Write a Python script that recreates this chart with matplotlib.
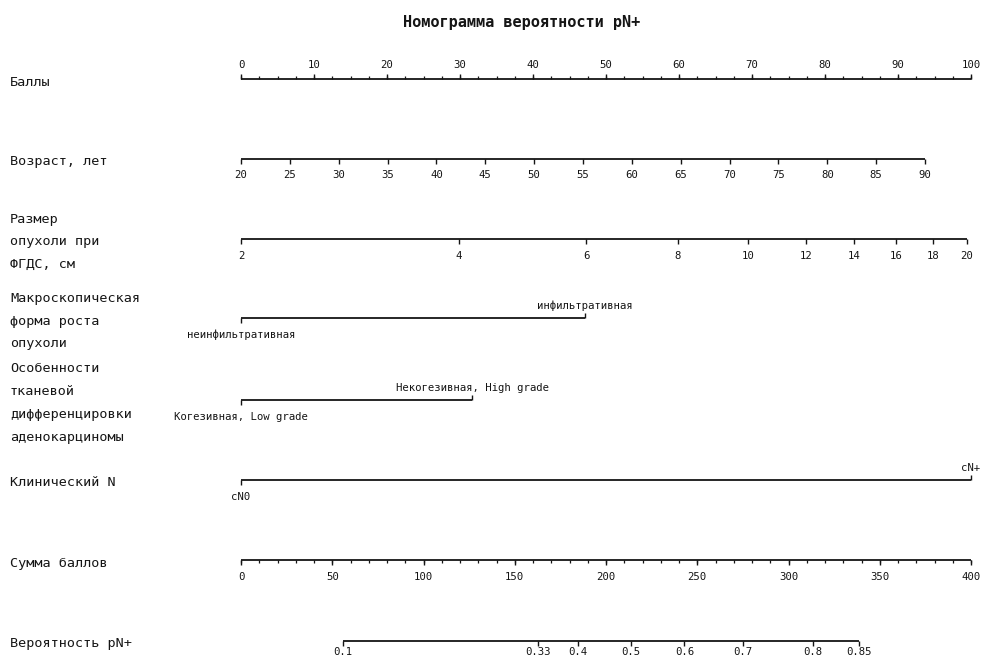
import numpy as np
import matplotlib.pyplot as plt

plt.rcParams['font.family'] = ['DejaVu Sans Mono']

# данные номограммы
title = 'Номограмма вероятности pN+'
var_labels = ['Баллы', 'Возраст, лет', 'Размер\nопухоли при\nФГДС, см',
              'Макроскопическая\nформа роста\nопухоли',
              'Особенности\nтканевой\nдифференцировки\nаденокарциномы',
              'Клинический N', 'Сумма баллов', 'Вероятность pN+']

points_major = np.arange(0, 101, 10)
points_minor = np.arange(0, 101, 2.5)

age_ticks = np.arange(20, 91, 5)
age_pts_max = 93.7          # баллы при возрасте 90 лет

size_ticks = [2, 4, 6, 8, 10, 12, 14, 16, 18, 20]
size_pts = [0, 29.8, 47.3, 59.8, 69.5, 77.4, 84.0, 89.7, 94.8, 99.4]

macro_levels = ['неинфильтративная', 'инфильтративная']
macro_pts = [0, 47.1]

grade_levels = ['Когезивная, Low grade', 'Некогезивная, High grade']
grade_pts = [0, 31.7]

cn_levels = ['cN0', 'cN+']
cn_pts = [0, 100]

total_major = np.arange(0, 401, 50)
total_minor = np.arange(0, 401, 10)

prob_labels = ['0.1', '0.33', '0.4', '0.5', '0.6', '0.7', '0.8', '0.85']
prob_total = [55.7, 162.9, 184.4, 213.8, 243.0, 274.8, 313.2, 338.4]

# оформление
W, H = 981, 662
x0, pxpt = 241, 7.3          # положение 0 баллов и пикселей на балл
rows_y = [79, 159, 239, 318, 400, 480, 560, 641]
col = '#151515'
fs_tick, fs_lab = 7.7, 9.7

fig = plt.figure(figsize=(W / 100, H / 100), dpi=100)
ax = fig.add_axes([0, 0, 1, 1])
ax.set_xlim(-x0 / pxpt, (W - x0) / pxpt)
ax.set_ylim(H, 0)
ax.axis('off')


def draw_scale(y, pos, labels, direction, minor=None, major_len=5, minor_len=3, off=16):
    # direction: -1 = штрихи и подписи сверху, +1 = снизу
    ax.plot([min(pos), max(pos)], [y, y], color=col, lw=1.3, solid_capstyle='butt')
    ax.vlines(pos, y, y + direction * major_len, color=col, lw=1.0)
    if minor is not None:
        ax.vlines(minor, y, y + direction * minor_len, color=col, lw=0.9)
    for p, t in zip(pos, labels):
        ax.text(p, y + direction * off, t, ha='center', va='center', fontsize=fs_tick, color=col)


def draw_factor(y, pos, levels):
    # категориальный фактор: подписи чередуются снизу/сверху
    ax.plot([min(pos), max(pos)], [y, y], color=col, lw=1.3, solid_capstyle='butt')
    for i, (p, t) in enumerate(zip(pos, levels)):
        d = 1 if i % 2 == 0 else -1
        ax.vlines(p, y, y + d * 5, color=col, lw=1.0)
        ax.text(p, y + (17 if d > 0 else -12), t, ha='center', va='center',
                fontsize=fs_tick, color=col)


# Баллы
draw_scale(rows_y[0], points_major, [str(v) for v in points_major], -1,
           minor=points_minor, off=14)
# Возраст
age_pts = (age_ticks - 20) / 70 * age_pts_max
draw_scale(rows_y[1], age_pts, [str(v) for v in age_ticks], 1)
# Размер опухоли
draw_scale(rows_y[2], size_pts, [str(v) for v in size_ticks], 1, off=17)
# категориальные факторы
draw_factor(rows_y[3], macro_pts, macro_levels)
draw_factor(rows_y[4], grade_pts, grade_levels)
draw_factor(rows_y[5], cn_pts, cn_levels)
# Сумма баллов
draw_scale(rows_y[6], total_major / 4, [str(v) for v in total_major], 1,
           minor=total_minor / 4, off=17)
# Вероятность
draw_scale(rows_y[7], np.array(prob_total) / 4, prob_labels, 1, off=11)

# подписи переменных слева
for y, lab in zip(rows_y, var_labels):
    lines = lab.split('\n')
    n = len(lines)
    for i, ln in enumerate(lines):
        yy = y + 3 + (i - (n - 1) / 2) * 22.8
        ax.text(-x0 / pxpt + 10 / pxpt, yy, ln, ha='left', va='center',
                fontsize=fs_lab, color=col)

fig.text(522 / W, 1 - 22 / H, title, ha='center', va='center',
         fontsize=11, fontweight='bold', color=col)

fig.savefig('out.png', dpi=100, facecolor='white')
